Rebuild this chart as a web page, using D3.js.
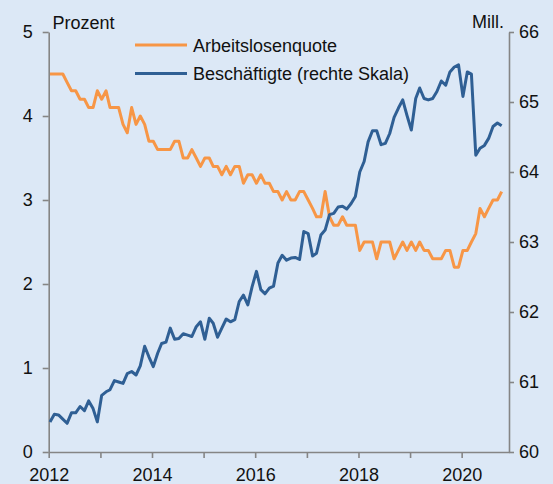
<!DOCTYPE html>
<html>
<head>
<meta charset="utf-8">
<script src="https://cdn.jsdelivr.net/npm/d3@7"></script>
<style>
  html, body { margin: 0; padding: 0; background: #dce8f6; }
  svg { display: block; font-family: "Liberation Sans", Arial, sans-serif; }
</style>
</head>
<body>
<svg width="553" height="484"></svg>
<script>
// monthly values, Jan 2012 .. Oct 2020
var arbeitslosenquote = [
  4.5,4.5,4.5,4.5,4.4,4.3,4.3,4.2,4.2,4.1,4.1,4.3,
  4.2,4.3,4.1,4.1,4.1,3.9,3.8,4.1,3.9,4.0,3.9,3.7,
  3.7,3.6,3.6,3.6,3.6,3.7,3.7,3.5,3.5,3.6,3.5,3.4,
  3.5,3.5,3.4,3.4,3.3,3.4,3.3,3.4,3.4,3.2,3.3,3.3,
  3.2,3.3,3.2,3.2,3.1,3.1,3.0,3.1,3.0,3.0,3.1,3.1,
  3.0,2.9,2.8,2.8,3.1,2.8,2.7,2.7,2.8,2.7,2.7,2.7,
  2.4,2.5,2.5,2.5,2.3,2.5,2.5,2.5,2.3,2.4,2.5,2.4,
  2.5,2.4,2.5,2.4,2.4,2.3,2.3,2.3,2.4,2.4,2.2,2.2,
  2.4,2.4,2.5,2.6,2.9,2.8,2.9,3.0,3.0,3.1
];
var beschaeftigte = [
  60.43,60.54,60.53,60.47,60.41,60.56,60.56,60.65,60.59,60.73,60.62,60.43,
  60.81,60.86,60.89,61.02,61.00,60.98,61.12,61.15,61.10,61.23,61.51,61.36,
  61.22,61.41,61.55,61.57,61.77,61.61,61.62,61.69,61.67,61.65,61.79,61.86,
  61.61,61.91,61.84,61.64,61.77,61.90,61.86,61.89,62.15,62.24,62.10,62.36,
  62.58,62.32,62.26,62.34,62.37,62.70,62.81,62.74,62.77,62.78,62.75,63.15,
  63.12,62.80,62.84,63.10,63.17,63.39,63.41,63.50,63.51,63.47,63.55,63.65,
  64.00,64.15,64.43,64.59,64.59,64.39,64.41,64.55,64.78,64.91,65.03,64.81,
  64.60,65.05,65.20,65.05,65.03,65.05,65.15,65.30,65.24,65.43,65.50,65.53,
  65.08,65.43,65.40,64.24,64.34,64.38,64.48,64.65,64.70,64.66
];
var years = [2012,2013,2014,2015,2016,2017,2018,2019,2020];
var leftTicks = [0,1,2,3,4,5];
var rightTicks = [60,61,62,63,64,65,66];
var legendNames = ["Arbeitslosenquote", "Beschäftigte (rechte Skala)"];

var orange = "#f79646";
var blue = "#2f5f94";
var axisColor = "#858585";
var fontSize = "18px";

var svg = d3.select("svg");

var x = d3.scaleTime()
        .domain([new Date(2012, 0, 1), new Date(2020, 11, 1)])
        .range([48.7, 509]);
var yL = d3.scaleLinear().domain([0, 5]).range([452, 32]);
var yR = d3.scaleLinear().domain([60, 66]).range([452, 32]);

var monthDate = function(i) { return new Date(2012, i, 10); };

// axes
var styleAxis = function(g) {
    g.selectAll(".domain").attr("stroke", axisColor).attr("stroke-width", 1.6);
    g.selectAll(".tick line").attr("stroke", axisColor).attr("stroke-width", 1.6);
    g.selectAll(".tick text").attr("fill", "#111").style("font-size", fontSize)
            .style("font-family", "'Liberation Sans', Arial, sans-serif");
};

svg.append("g")
        .attr("transform", "translate(48.7,0)")
        .call(d3.axisLeft(yL).tickValues(leftTicks).tickFormat(d3.format("d"))
                .tickSize(6).tickSizeOuter(0).tickPadding(10))
        .call(styleAxis);

svg.append("g")
        .attr("transform", "translate(509,0)")
        .call(d3.axisRight(yR).tickValues(rightTicks).tickFormat(d3.format("d"))
                .tickSize(5).tickSizeOuter(0).tickPadding(5))
        .call(styleAxis);

svg.append("g")
        .attr("transform", "translate(0,452)")
        .call(d3.axisBottom(x)
                .tickValues(years.map(function(y){ return new Date(y, 0, 1); }))
                .tickSize(6).tickSizeOuter(0).tickPadding(10)
                .tickFormat(function(d){ return d.getFullYear() % 2 === 0 ? d.getFullYear() : ""; }))
        .call(styleAxis);

// unit labels
svg.append("text").attr("x", 52.5).attr("y", 29)
        .style("font-size", fontSize).attr("fill", "#111").text("Prozent");
svg.append("text").attr("x", 504).attr("y", 28).attr("text-anchor", "end")
        .style("font-size", fontSize).attr("fill", "#111").text("Mill.");

// lines
var lineL = d3.line()
        .x(function(d, i){ return x(monthDate(i)); })
        .y(function(d){ return yL(d); });
var lineR = d3.line()
        .x(function(d, i){ return x(monthDate(i)); })
        .y(function(d){ return yR(d); });

svg.append("path").datum(arbeitslosenquote)
        .attr("d", lineL)
        .attr("fill", "none").attr("stroke", orange).attr("stroke-width", 3)
        .attr("stroke-linejoin", "round");

svg.append("path").datum(beschaeftigte)
        .attr("d", lineR)
        .attr("fill", "none").attr("stroke", blue).attr("stroke-width", 3)
        .attr("stroke-linejoin", "round");

// legend
var legend = svg.selectAll(".legend")
        .data(legendNames)
        .enter()
        .append("g")
        .attr("class", "legend")
        .attr("transform", function(d, i){ return "translate(135," + (45 + i * 28.5) + ")"; });

legend.append("line")
        .attr("x1", 0).attr("x2", 52).attr("y1", 0).attr("y2", 0)
        .attr("stroke", function(d, i){ return i === 0 ? orange : blue; })
        .attr("stroke-width", 3);

legend.append("text")
        .attr("x", 58).attr("y", 6.5)
        .style("font-size", fontSize).attr("fill", "#111")
        .text(function(d){ return d; });
</script>
</body>
</html>
